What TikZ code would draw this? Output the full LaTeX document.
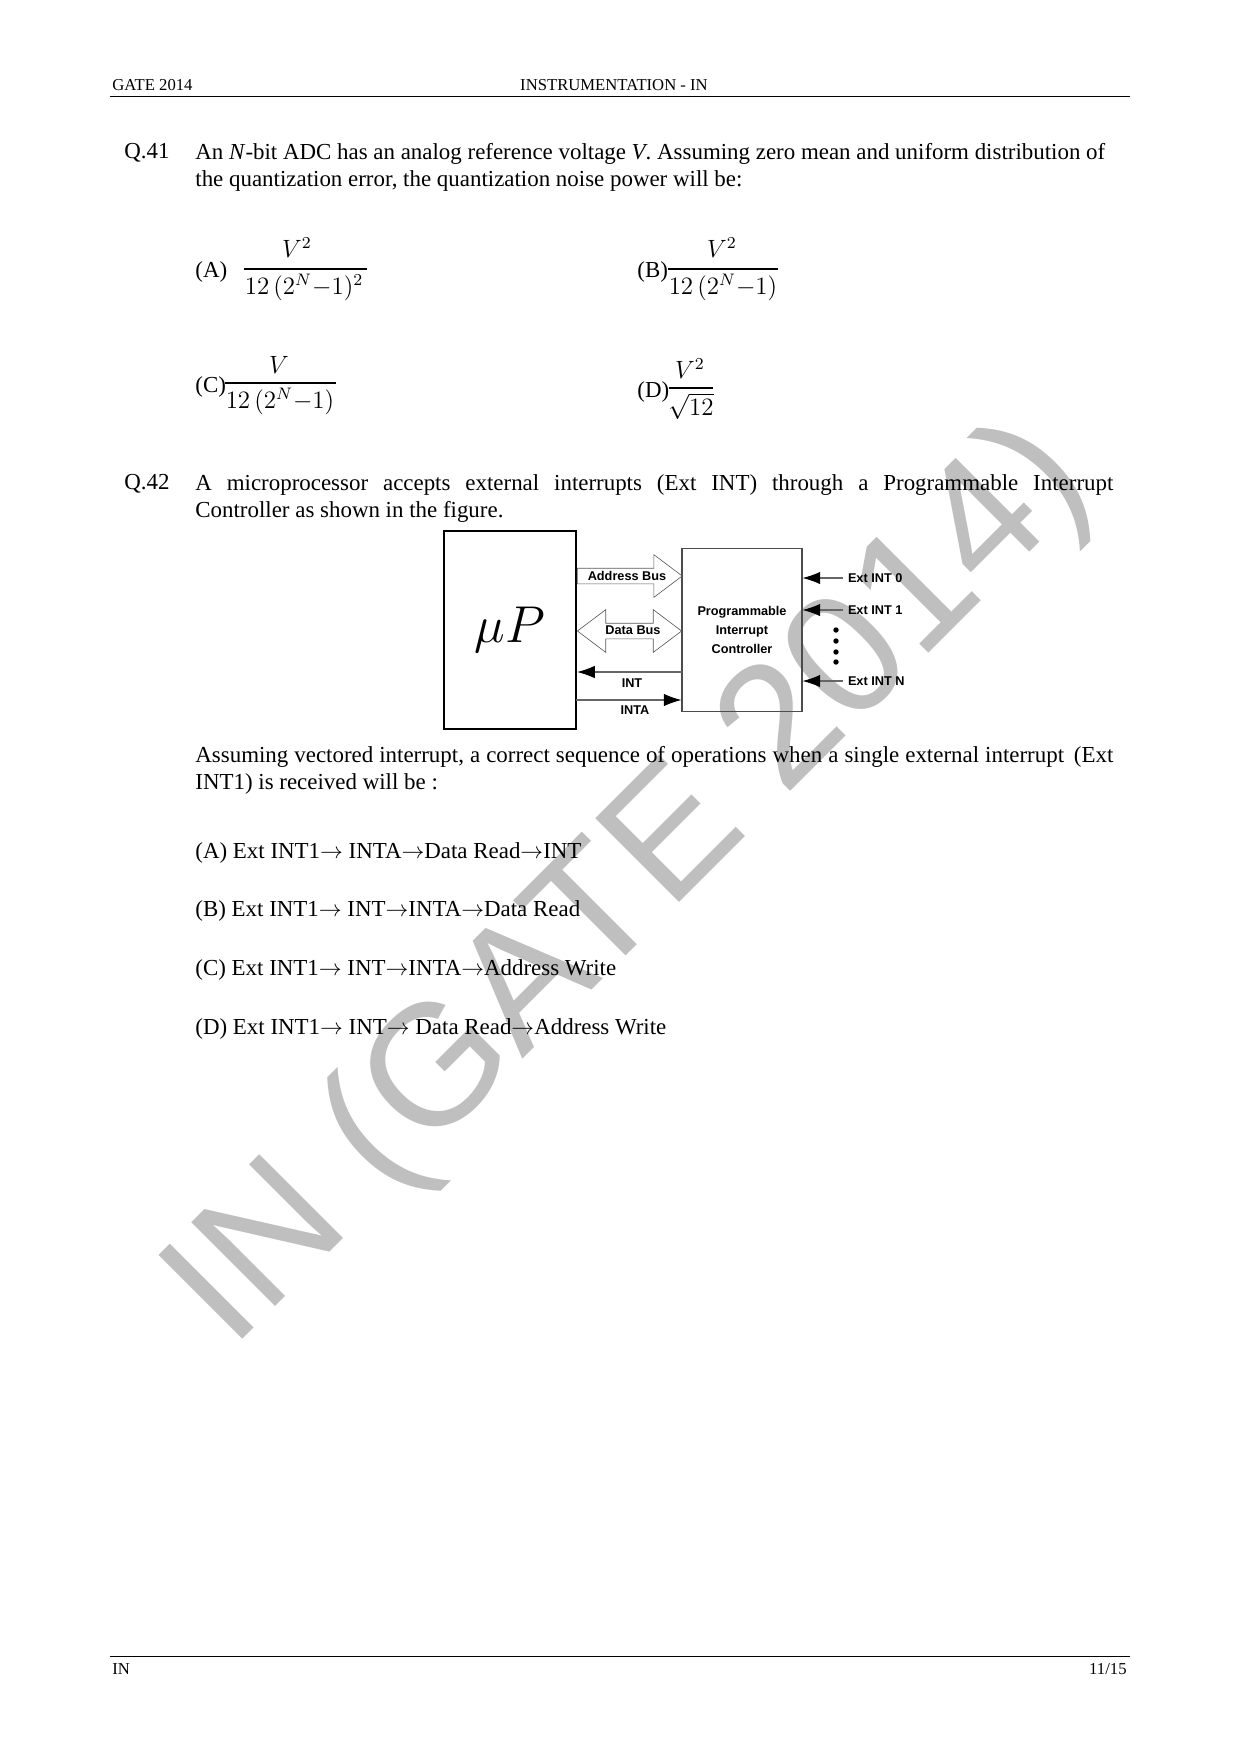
\documentclass[tikz,border=0pt]{standalone}
\usepackage{fontspec}
\setmainfont{Liberation Serif}
\usetikzlibrary{arrows.meta,shapes.arrows}
\newfontfamily\diagramfont{Liberation Sans}
\tikzset{
	bodytext/.style={anchor=north west, inner sep=0pt, font=\fontsize{11}{13}\selectfont, align=left},
	smalltext/.style={inner sep=0pt, font=\fontsize{8}{9}\selectfont},
	formula/.style={inner sep=0pt, font=\fontsize{12}{14}\selectfont},
	difflabel/.style={inner sep=0pt, font=\diagramfont\bfseries\fontsize{6.1}{9.1}\selectfont, align=center},
	fatarrow/.style={draw=black!65, line width=0.3pt, inner sep=0pt, minimum width=20.2pt, minimum height=50pt},
	sigarrow/.style={draw=black!60, line width=0.5pt, -{Latex[length=8.5pt,width=6pt,black]}},
	fracbar/.style={line width=0.9pt},
	dotnode/.style={circle, fill=black, inner sep=0pt, minimum size=2.6pt}
}
\begin{document}
\begin{tikzpicture}[x=0.48pt, y=-0.48pt]
	\useasboundingbox (0,0) rectangle (1241,1754);

	\node[anchor=base west, inner sep=0pt, rotate=45, text=black!25] (mark) at (231,1351) {\diagramfont\fontsize{82.7}{83}\selectfont IN (GATE 2014)};

	% page header and footer
	\coordinate (hl) at (110,96);
	\coordinate (hr) at (1130,96);
	\coordinate (fl) at (110,1656);
	\coordinate (fr) at (1130,1656);
	\draw[line width=0.4pt] (hl) -- (hr);
	\draw[line width=0.4pt] (fl) -- (fr);
	\node[smalltext, anchor=base west] (gate) at (112,90) {GATE 2014};
	\node[smalltext, anchor=base] (paper) at (614,90) {INSTRUMENTATION - IN};
	\node[smalltext, anchor=base west] (code) at (112,1674) {IN};
	\node[smalltext, anchor=base east] (page) at (1127,1674) {11/15};

	% question 41
	\node[bodytext] (q41) at (124,143) {Q.41};
	\node[bodytext] (q41text) at (195,143) {An \textit{N}-bit ADC has an analog reference voltage \textit{V}. Assuming zero mean and uniform distribution of\\the quantization error, the quantization noise power will be:};

	\node[bodytext] (optA) at (195,261) {(A)};
	\coordinate (al) at (244,269);
	\coordinate (ar) at (367,269);
	\draw[fracbar] (al) -- (ar);
	\node[formula] (anum) at (297,248) {$V^{2}$};
	\node[formula] (aden) at (304,287) {$12\,(2^{N}{-}1)^{2}$};

	\node[bodytext] (optB) at (637,261) {(B)};
	\coordinate (bl) at (668,269);
	\coordinate (br) at (778,269);
	\draw[fracbar] (bl) -- (br);
	\node[formula] (bnum) at (722,248) {$V^{2}$};
	\node[formula] (bden) at (723,287) {$12\,(2^{N}{-}1)$};

	\node[bodytext] (optC) at (195,376) {(C)};
	\coordinate (cl) at (225,383);
	\coordinate (cr) at (336,383);
	\draw[line width=0.6pt] (cl) -- (cr);
	\node[formula] (cnum) at (279,365) {$V$};
	\node[formula] (cden) at (280,401) {$12\,(2^{N}{-}1)$};

	\node[bodytext] (optD) at (637,381) {(D)};
	\coordinate (dl) at (669,388);
	\coordinate (dr) at (713,388);
	\draw[fracbar] (dl) -- (dr);
	\node[formula] (dnum) at (690,369) {$V^{2}$};
	\node[formula] (dden) at (691,406) {$\sqrt{12}$};

	% question 42
	\node[bodytext] (q42) at (124,474) {Q.42};
	\node[bodytext, text width=440.6pt, align=justify] (q42text) at (195,474) {A microprocessor accepts external interrupts (Ext INT) through a Programmable Interrupt\linebreak Controller as shown in the figure.};

	% figure
	\node[draw, line width=1pt, inner sep=0pt, minimum width=63.4pt, minimum height=95pt, font=\fontsize{23}{23}\selectfont] (up) at (510,630) {$\mu P$};
	\node[draw=black!70, line width=0.5pt, inner sep=0pt, minimum width=57.6pt, minimum height=77.8pt] (pic) at (742,630) {};
	\node[difflabel] (piclabel) at (742,630) {Programmable\\Interrupt\\Controller};

	\node[fatarrow, single arrow, single arrow head extend=6.5pt, single arrow tip angle=74, minimum height=50.4pt] (addr) at (624.5,576) {\rule{0pt}{7.2pt}};
	\node[fatarrow, double arrow, double arrow head extend=6.5pt, double arrow tip angle=74] (data) at (629.5,631) {\rule{0pt}{7.2pt}};
	\node[difflabel] (addrlabel) at (627,576) {Address Bus};
	\node[difflabel] (datalabel) at (633,630) {Data Bus};

	\coordinate (intr) at (682,672);
	\coordinate (inta) at (576,700);
	\draw[sigarrow] (intr) -- (intr -| up.east);
	\draw[sigarrow] (inta) -- (inta -| pic.west);
	\node[difflabel] (intlabel) at (632,683) {INT};
	\node[difflabel] (intalabel) at (635,710) {INTA};

	\node[difflabel, anchor=west, outer sep=2.4pt] (ext0) at (843,578) {Ext INT 0};
	\node[difflabel, anchor=west, outer sep=2.4pt] (ext1) at (843,610) {Ext INT 1};
	\node[difflabel, anchor=west, outer sep=2.4pt] (extn) at (843,681) {Ext INT N};
	\draw[sigarrow] (ext0.west) -- (ext0.west -| pic.east);
	\draw[sigarrow] (ext1.west) -- (ext1.west -| pic.east);
	\draw[sigarrow] (extn.west) -- (extn.west -| pic.east);
	\foreach \i/\y in {1/630, 2/641, 3/652, 4/662}
		\node[dotnode] (dot\i) at (836,\y) {};

	% question 42 continued
	\node[bodytext, text width=440.6pt, align=justify] (asktext) at (195,746) {Assuming vectored interrupt, a correct sequence of operations when a single external interrupt\, (Ext INT1) is received will be :};
	\node[bodytext] (ansA) at (195,842) {(A) Ext INT1$\rightarrow$ INTA$\rightarrow$Data Read$\rightarrow$INT};
	\node[bodytext] (ansB) at (195,900) {(B) Ext INT1$\rightarrow$ INT$\rightarrow$INTA$\rightarrow$Data Read};
	\node[bodytext] (ansC) at (195,959) {(C) Ext INT1$\rightarrow$ INT$\rightarrow$INTA$\rightarrow$Address Write};
	\node[bodytext] (ansD) at (195,1018) {(D) Ext INT1$\rightarrow$ INT$\rightarrow$ Data Read$\rightarrow$Address Write};
\end{tikzpicture}
\end{document}
